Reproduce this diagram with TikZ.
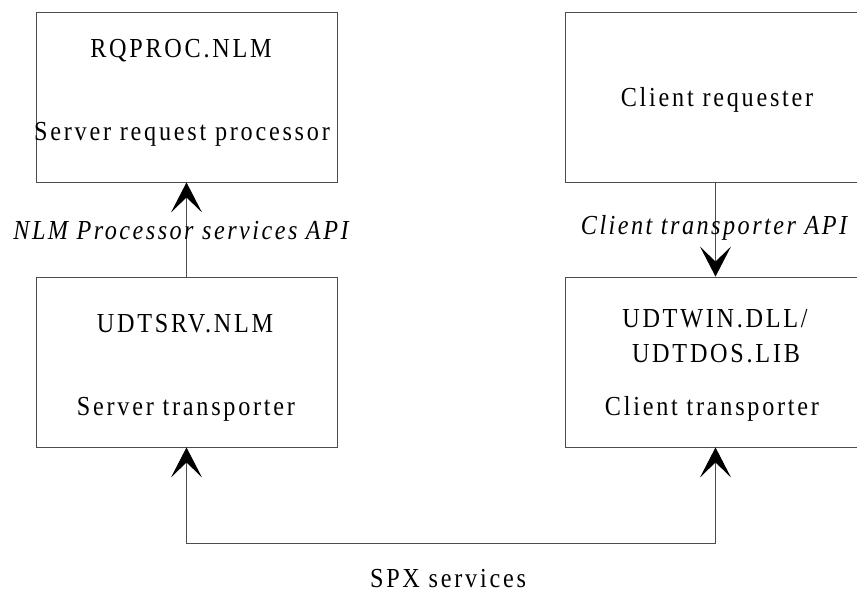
\documentclass[tikz,border=0pt]{standalone}
\usepackage{fontspec}
\setmainfont{Liberation Serif}[FakeStretch=0.88, LetterSpace=10, ItalicFeatures={LetterSpace=9}]
\usetikzlibrary{arrows.meta}
\begin{document}
\begin{tikzpicture}[x=1pt,y=-1pt,
  box/.style={draw=black!70, line width=0.9pt, minimum width=301pt, minimum height=170pt, inner sep=0pt},
  txt/.style={inner sep=0pt, font=\fontsize{27.5}{30}\selectfont},
  itxt/.style={inner sep=0pt, font=\fontsize{27.5}{30}\selectfont\itshape},
  conn/.style={draw=black!70, line width=0.9pt},
  tip/.tip={Stealth[length=30pt,width=31pt,inset=15pt,color=black]}
]
\useasboundingbox (0,0) rectangle (857,594);
% boxes
\node[box] (rq)  at (186.5,97)  {};
\node[box] (cr)  at (715.5,97)  {};
\node[box] (srv) at (186.5,362) {};
\node[box] (udt) at (715.5,362) {};
% texts
\node[txt] (t1) at (181,51)  {RQPROC.NLM};
\node[txt] (t2) at (182,134) {Server request processor};
\node[txt] (t3) at (717,100) {Client requester};
\node[txt] (t4) at (185,324) {UDTSRV.NLM};
\node[txt] (t5) at (186,409) {Server transporter};
\node[txt] (t6) at (715,319) {UDTWIN.DLL/};
\node[txt] (t7) at (716,354) {UDTDOS.LIB};
\node[txt] (t8) at (712,409) {Client transporter};
\node[txt] (t9) at (448,579) {SPX services};
% connectors
\draw[conn,-tip] (srv.north) -- (rq.south);
\draw[conn,-tip] (cr.south) -- (udt.north);
\draw[conn,tip-tip] (srv.south) -- ++(0,96) -| (udt.south);
% connector labels
\node[itxt] (l1) at (181,231) {NLM Processor services API};
\node[itxt] (l2) at (714,228) {Client transporter API};
\end{tikzpicture}
\end{document}
